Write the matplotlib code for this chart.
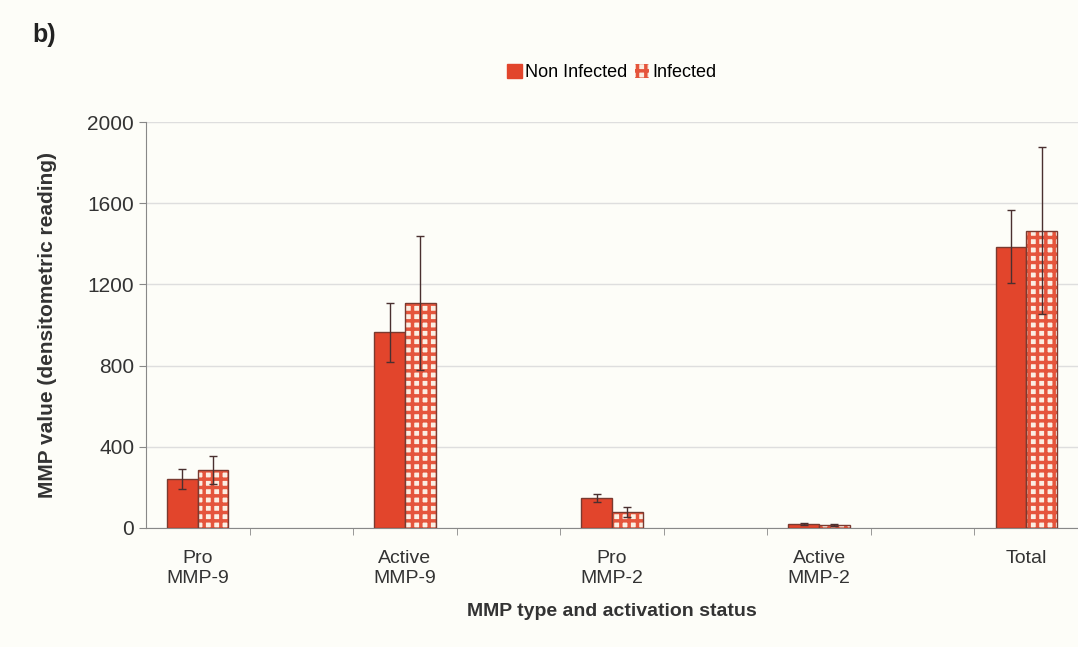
import matplotlib.pyplot as plt
import numpy as np

plt.rcParams['font.family'] = ['Liberation Sans', 'DejaVu Sans']
plt.rcParams['hatch.linewidth'] = 2.5

categories = ['Pro\nMMP-9', 'Active\nMMP-9', 'Pro\nMMP-2', 'Active\nMMP-2', 'Total']
non_infected = [240, 965, 148, 20, 1385]
non_infected_err = [50, 145, 20, 4, 180]
infected = [285, 1110, 80, 15, 1465]
infected_err = [70, 330, 25, 4, 410]

red = '#e2452c'
edge = '#7a3a30'

fig = plt.figure(figsize=(10.78, 6.47), dpi=100)
fig.patch.set_facecolor('#fdfdf8')
ax = fig.add_axes([0.1354, 0.184, 0.8646, 0.6274])
ax.set_facecolor('#fdfdf8')

x = np.arange(len(categories))
w = 0.148
ax.bar(x - w / 2, non_infected, w, color=red, edgecolor=edge, linewidth=1,
       label='Non Infected', zorder=3)
ax.bar(x + w / 2, infected, w, color='#fbeee2', edgecolor='#e5553c', hatch='++',
       linewidth=0, zorder=3)
ax.bar(x + w / 2, infected, w, fill=False, edgecolor=edge, linewidth=1, zorder=4)
ax.errorbar(x - w / 2, non_infected, yerr=non_infected_err, fmt='none',
            ecolor='#4a3030', elinewidth=1, capsize=3, zorder=5)
ax.errorbar(x + w / 2, infected, yerr=infected_err, fmt='none',
            ecolor='#4a3030', elinewidth=1, capsize=3, zorder=5)

# legend proxies
h0 = plt.Rectangle((0, 0), 1, 1, facecolor=red, edgecolor=red)
h1 = plt.Rectangle((0, 0), 1, 1, facecolor='#fbeee2', edgecolor='#e5553c',
                   hatch='++', linewidth=0)
ax.legend([h0, h1], ['Non Infected', 'Infected'], loc='lower center',
          bbox_to_anchor=(0.5, 1.06), ncol=2, frameon=False, fontsize=13,
          handlelength=0.8, handleheight=0.8, handletextpad=0.2, columnspacing=0.4)

ax.set_xlim(-0.25, 4.23)
ax.set_ylim(0, 2000)
ax.set_yticks(np.arange(0, 2001, 400))
ax.set_xticks(x)
ax.set_xticklabels(categories, fontsize=14, color='#333333')
ax.set_xticks(np.arange(0.25, 4.3, 0.5), minor=True)
ax.tick_params(axis='x', which='major', length=0, pad=16)
ax.tick_params(axis='x', which='minor', length=5, color='#888888')
ax.tick_params(axis='y', labelsize=15, length=5, color='#888888', labelcolor='#333333')
ax.grid(axis='y', color='#dedede', linewidth=1, zorder=0)
for s in ['top', 'right']:
    ax.spines[s].set_visible(False)
ax.spines['left'].set_color('#888888')
ax.spines['bottom'].set_color('#888888')

ax.set_ylabel('MMP value (densitometric reading)', fontsize=15, fontweight='bold',
              color='#333333', labelpad=22)
ax.set_xlabel('MMP type and activation status', fontsize=14, fontweight='bold',
              color='#333333', labelpad=12)
fig.text(0.03, 0.935, 'b)', fontsize=18, fontweight='bold', color='#222222')

fig.savefig('out.png', dpi=100, facecolor=fig.get_facecolor())
